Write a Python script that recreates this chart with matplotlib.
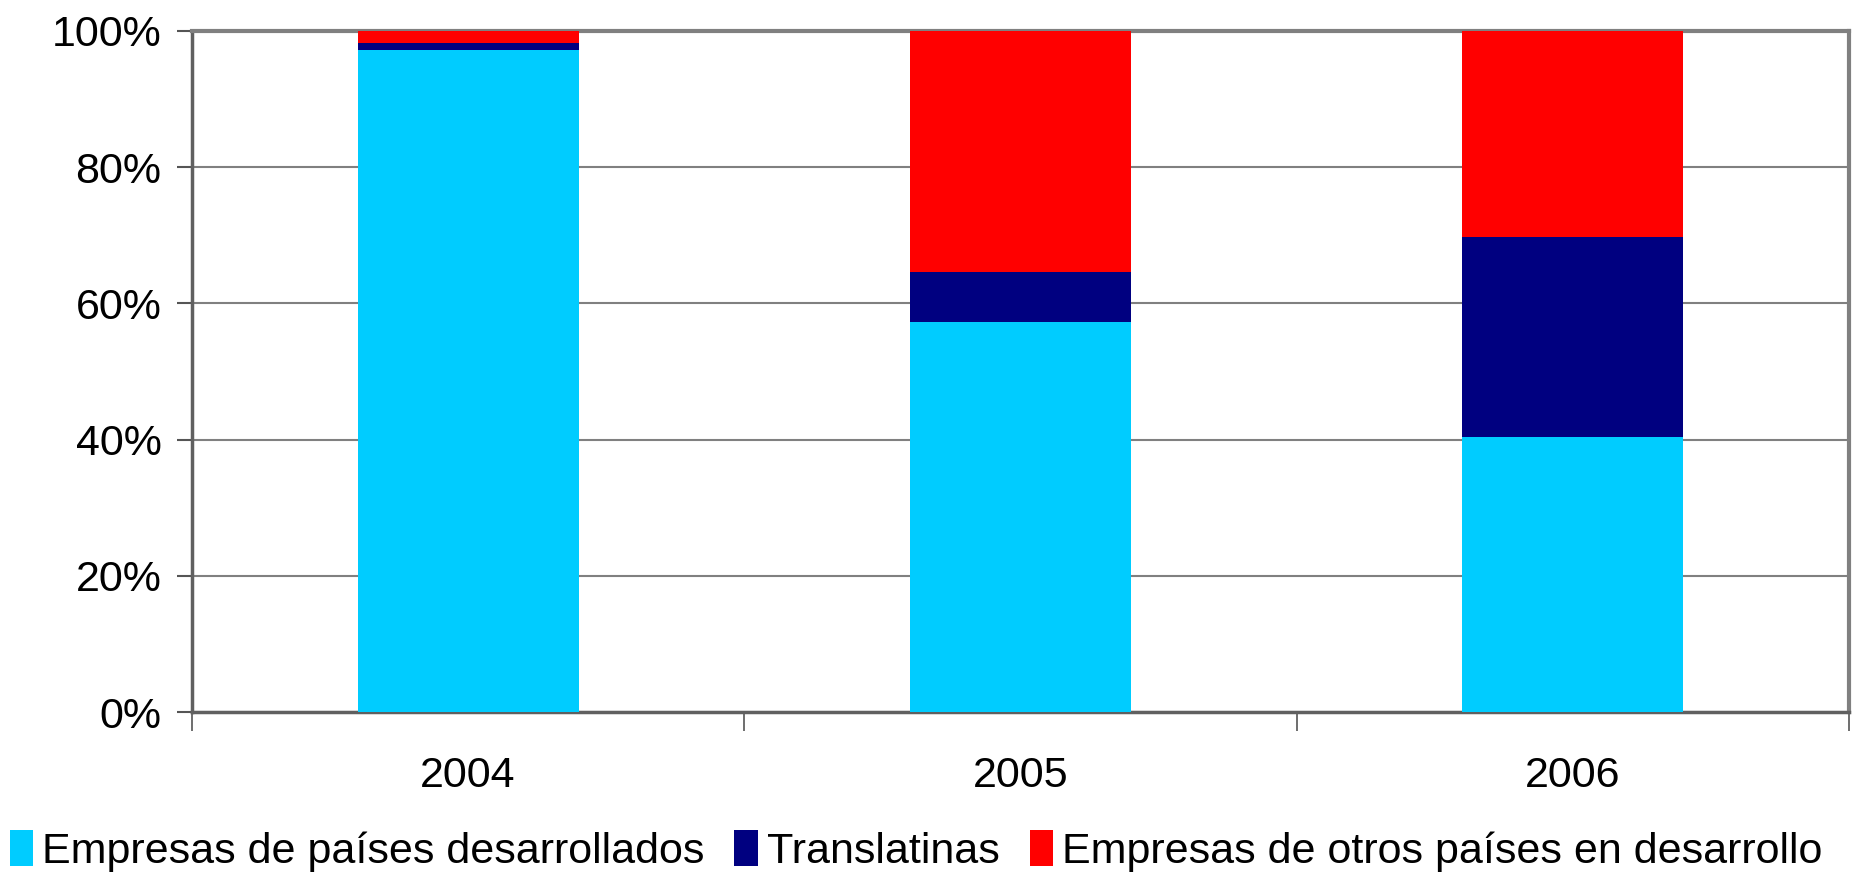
import numpy as np
import matplotlib.pyplot as plt
from matplotlib.ticker import FuncFormatter

plt.rcParams['font.family'] = ['Liberation Sans', 'DejaVu Sans']

years = ['2004', '2005', '2006']
desarrollados = [97.2, 57.3, 40.4]
translatinas = [1.0, 7.3, 29.3]
otros = [1.8, 35.4, 30.3]

series = ['Empresas de países desarrollados', 'Translatinas',
          'Empresas de otros países en desarrollo']
colors = ['#00CCFF', '#000080', '#FF0000']

fig = plt.figure(figsize=(18.58, 8.73), dpi=100)
ax = fig.add_axes([0.1033, 0.1844, 0.8919, 0.7801])

x = np.arange(len(years))
bottom = np.zeros(len(years))
for vals, name, c in zip([desarrollados, translatinas, otros], series, colors):
    ax.bar(x, vals, width=0.4, bottom=bottom, color=c, label=name, zorder=3)
    bottom += np.array(vals)

ax.set_ylim(0, 100)
ax.set_xlim(-0.5, len(years) - 0.5)
ax.set_yticks(np.arange(0, 101, 20))
ax.yaxis.set_major_formatter(FuncFormatter(lambda v, p: f'{v:.0f}%'))
ax.grid(axis='y', color='#808080', linewidth=1.5, zorder=0)

ax.set_xticks(x)
ax.set_xticklabels(years)
ax.set_xticks(np.arange(-0.5, len(years)), minor=True)
ax.tick_params(axis='x', which='major', length=0, pad=32, labelsize=31)
ax.tick_params(axis='x', which='minor', length=14, width=1.2, color='#555555')
ax.tick_params(axis='y', length=11, width=1.5, color='#555555', pad=11, labelsize=31)

for s in ['left', 'bottom']:
    ax.spines[s].set_color('#606060')
    ax.spines[s].set_linewidth(2.5)
for s in ['top', 'right']:
    ax.spines[s].set_color('#808080')
    ax.spines[s].set_linewidth(3)

fig.legend(loc='center', bbox_to_anchor=(0.493, 0.025), ncol=3, frameon=False,
           fontsize=31, handlelength=0.55, handleheight=0.9, handletextpad=0.2,
           columnspacing=0.7)

plt.savefig('out.png', dpi=100)
